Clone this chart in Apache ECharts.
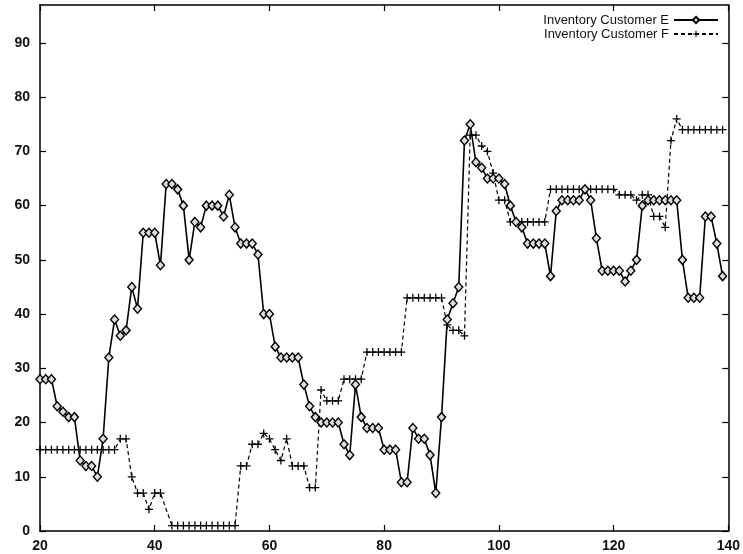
<!DOCTYPE html>
<html>
<head>
<meta charset="utf-8">
<script src="https://cdn.jsdelivr.net/npm/echarts@6/dist/echarts.min.js"></script>
<style>html,body{margin:0;padding:0;background:#fff}#c{width:743px;height:554px}</style>
</head>
<body>
<div id="c"></div>
<script>
const xE = [20,21,22,23,24,25,26,27,28,29,30,31,32,33,34,35,36,37,38,39,40,41,42,43,44,45,46,47,48,49,50,51,52,53,54,55,56,57,58,59,60,61,62,63,64,65,66,67,68,69,70,71,72,73,74,75,76,77,78,79,80,81,82,83,84,85,86,87,88,89,90,91,92,93,94,95,96,97,98,99,100,101,102,103,104,105,106,107,108,109,110,111,112,113,114,115,116,117,118,119,120,121,122,123,124,125,126,127,128,129,130,131,132,133,134,135,136,137,138,139];
const yE = [28,28,28,23,22,21,21,13,12,12,
            10,17,32,39,36,37,45,41,55,55,
            55,49,64,64,63,60,50,57,56,60,
            60,60,58,62,56,53,53,53,51,40,
            40,34,32,32,32,32,27,23,21,20,
            20,20,20,16,14,27,21,19,19,19,
            15,15,15,9,9,19,17,17,14,7,
            21,39,42,45,72,75,68,67,65,65,
            65,64,60,57,56,53,53,53,53,47,
            59,61,61,61,61,63,61,54,48,48,
            48,48,46,48,50,60,61,61,61,61,
            61,61,50,43,43,43,58,58,53,47];
const xF = [20,21,22,23,24,25,26,27,28,29,30,31,32,33,34,35,36,37,38,39,40,41,43,44,45,46,47,48,49,50,51,52,53,54,55,56,57,58,59,60,61,62,63,64,65,66,67,68,69,70,71,72,73,74,75,76,77,78,79,80,81,82,83,84,85,86,87,88,89,90,91,92,93,94,95,96,97,98,99,100,101,102,103,104,105,106,107,108,109,110,111,112,113,114,115,116,117,118,119,120,121,122,123,124,125,126,127,128,129,130,131,132,133,134,135,136,137,138,139];
const yF = [15,15,15,15,15,15,15,15,15,15,15,15,15,15,
            17,17,10,7,7,4,7,7,
            1,1,1,1,1,1,1,1,1,1,1,1,
            12,12,16,16,18,17,15,13,17,12,12,12,8,8,
            26,24,24,24,28,28,28,28,
            33,33,33,33,33,33,33,
            43,43,43,43,43,43,43,
            38,37,37,36,73,73,71,70,66,61,61,
            57,57,57,57,57,57,57,
            63,63,63,63,63,63,63,63,63,63,63,63,
            62,62,62,61,62,62,58,58,56,72,76,
            74,74,74,74,74,74,74,74];
const xTicks = [20,40,60,80,100,120,140];
const yTicks = [0,10,20,30,40,50,60,70,80,90];
const names = ['Inventory Customer E','Inventory Customer F'];

const font = 'Liberation Sans, Arial, sans-serif';
const plusPath = 'path://M4.2,0H5.8V4.2H10V5.8H5.8V10H4.2V5.8H0V4.2H4.2Z';
const axisCommon = {
  axisLine: {show: true, onZero: false, lineStyle: {color: '#000', width: 1.5}},
  splitLine: {show: false}
};
const chart = echarts.init(document.getElementById('c'), null, {renderer: 'canvas'});
chart.setOption({
  animation: false,
  backgroundColor: '#fff',
  grid: {left: 40, right: 13, top: 5, bottom: 23, containLabel: false},
  legend: {
    orient: 'vertical', right: 24, top: 13, align: 'right',
    itemWidth: 44, itemHeight: 8, itemGap: 0, padding: 0,
    textStyle: {fontFamily: font, fontSize: 13, color: '#111', lineHeight: 14},
    data: names
  },
  xAxis: [
    Object.assign({type: 'value', min: 20, max: 140, interval: 20, position: 'bottom',
      axisTick: {show: true, inside: true, length: 6, lineStyle: {color: '#000', width: 1.2}, customValues: xTicks},
      axisLabel: {show: true, margin: 8, fontFamily: font, fontSize: 14, fontWeight: 'bold', color: '#111', customValues: xTicks}}, axisCommon),
    Object.assign({type: 'value', min: 20, max: 140, interval: 20, position: 'top',
      axisTick: {show: true, inside: true, length: 6, lineStyle: {color: '#000', width: 1.2}, customValues: xTicks},
      axisLabel: {show: false}}, axisCommon)
  ],
  yAxis: [
    Object.assign({type: 'value', min: 0, max: 97, interval: 10, position: 'left',
      axisTick: {show: true, inside: true, length: 6, lineStyle: {color: '#000', width: 1.2}, customValues: yTicks},
      axisLabel: {show: true, margin: 10, fontFamily: font, fontSize: 14, fontWeight: 'bold', color: '#111', customValues: yTicks}}, axisCommon),
    Object.assign({type: 'value', min: 0, max: 97, interval: 10, position: 'right',
      axisTick: {show: true, inside: true, length: 6, lineStyle: {color: '#000', width: 1.2}, customValues: yTicks},
      axisLabel: {show: false}}, axisCommon)
  ],
  series: [
    {
      name: names[0], type: 'line', xAxisIndex: 0, yAxisIndex: 0,
      data: xE.map((x, i) => [x, yE[i]]),
      symbol: 'diamond', symbolSize: [8, 9], showAllSymbol: true,
      lineStyle: {color: '#000', width: 1.6},
      itemStyle: {color: '#ddd', borderColor: '#000', borderWidth: 1.4},
      z: 3
    },
    {
      name: names[1], type: 'line', xAxisIndex: 0, yAxisIndex: 0,
      data: xF.map((x, i) => [x, yF[i]]),
      symbol: plusPath, symbolSize: 8, showAllSymbol: true,
      lineStyle: {color: '#000', width: 1.2, type: [4, 3]},
      itemStyle: {color: '#000', borderWidth: 0},
      z: 2
    }
  ]
});
</script>
</body>
</html>
